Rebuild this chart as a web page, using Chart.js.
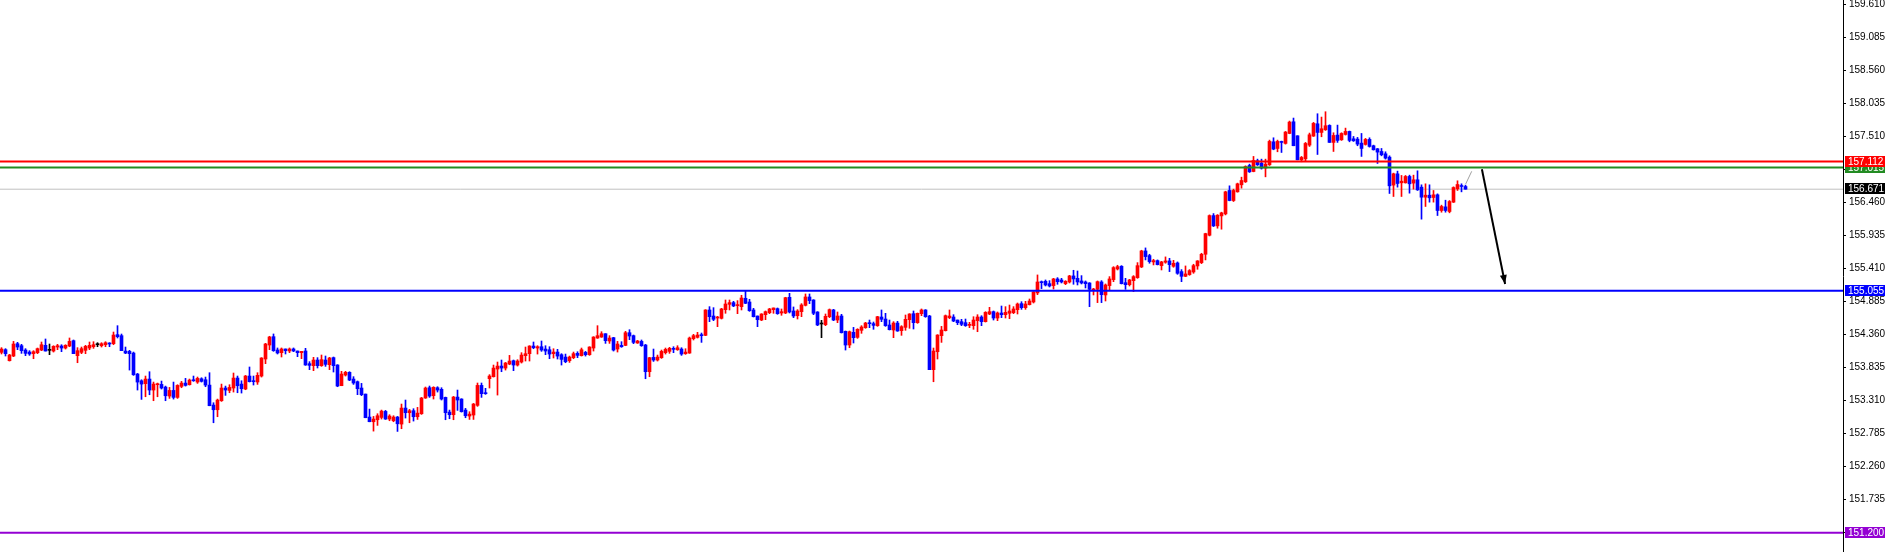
<!DOCTYPE html>
<html>
<head>
<meta charset="utf-8">
<script src="https://cdn.jsdelivr.net/npm/chart.js@4.4.1/dist/chart.umd.min.js"></script>
<style>
  html, body { margin: 0; padding: 0; background: #fff; }
  canvas { display: block; }
</style>
</head>
<body>
<canvas id="chart" width="1890" height="552"></canvas>
<script>
// candles, one per bar, oldest first
const opens = [
  154.073,154.116,153.940,154.015,154.211,154.179,154.110,154.078,154.052,154.068,
  154.110,154.185,154.105,154.094,154.158,154.174,154.142,154.174,154.259,154.020,
  154.073,154.105,154.142,154.163,154.195,154.179,154.195,154.217,154.211,154.355,
  154.339,154.094,154.089,154.062,153.728,153.621,153.574,153.648,153.473,153.558,
  153.563,153.520,153.377,153.467,153.356,153.531,153.584,153.558,153.637,153.600,
  153.653,153.637,153.552,153.234,153.159,153.303,153.505,153.467,153.505,153.664,
  153.568,153.489,153.696,153.622,153.601,153.696,153.967,154.190,154.323,154.111,
  154.068,154.127,154.095,154.127,154.095,154.068,154.095,153.893,153.861,153.951,
  153.861,153.951,153.877,153.989,153.872,153.542,153.712,153.755,153.648,153.606,
  153.505,153.409,153.043,152.968,153.000,153.037,153.133,153.011,152.984,153.043,
  152.931,153.186,153.112,153.144,153.048,153.096,153.346,153.510,153.383,153.510,
  153.484,153.356,153.122,153.080,153.361,153.330,153.154,153.059,153.075,153.229,
  153.547,153.431,153.654,153.685,153.807,153.855,153.823,153.887,153.940,153.871,
  153.919,154.020,154.052,154.174,154.142,154.163,154.126,154.115,154.052,154.078,
  154.036,153.998,153.940,153.988,154.057,154.020,154.073,154.036,154.142,154.301,
  154.317,154.370,154.254,154.307,154.126,154.184,154.184,154.386,154.339,154.222,
  154.248,154.190,153.765,153.993,153.951,153.988,154.068,154.089,154.137,154.115,
  154.126,154.052,154.062,154.291,154.312,154.349,154.344,154.748,154.652,154.620,
  154.615,154.753,154.838,154.865,154.817,154.801,154.934,154.875,154.748,154.652,
  154.588,154.673,154.705,154.753,154.769,154.700,154.700,154.950,154.732,154.657,
  154.721,154.822,154.955,154.907,154.716,154.525,154.514,154.641,154.748,154.588,
  154.652,154.408,154.190,154.392,154.312,154.424,154.466,154.540,154.530,154.498,
  154.636,154.604,154.509,154.429,154.540,154.418,154.471,154.594,154.689,154.546,
  154.689,154.748,154.652,153.797,154.083,154.339,154.418,154.626,154.636,154.588,
  154.562,154.546,154.503,154.498,154.578,154.636,154.562,154.684,154.721,154.620,
  154.700,154.673,154.695,154.705,154.753,154.849,154.785,154.833,154.875,155.019,
  155.199,155.205,155.167,155.136,155.242,155.226,155.167,155.194,155.290,155.252,
  155.210,155.194,155.178,155.066,155.077,155.194,154.987,155.136,155.231,155.401,
  155.444,155.183,155.151,155.215,155.263,155.433,155.688,155.614,155.513,155.534,
  155.454,155.508,155.529,155.444,155.497,155.359,155.284,155.311,155.353,155.449,
  155.502,155.635,155.938,156.251,156.087,156.246,156.278,156.651,156.491,156.629,
  156.741,156.789,157.049,156.953,157.124,157.086,157.007,157.060,157.426,157.320,
  157.426,157.400,157.559,157.745,157.522,157.139,157.155,157.373,157.517,157.713,
  157.575,157.618,157.687,157.416,157.533,157.458,157.543,157.591,157.474,157.469,
  157.405,157.384,157.464,157.363,157.315,157.272,157.235,157.182,156.736,156.916,
  156.773,156.773,156.874,156.768,156.821,156.704,156.544,156.576,156.539,156.582,
  156.332,156.390,156.316,156.465,156.677,156.730,156.714
];
const highs = [
  154.148,154.132,154.041,154.248,154.233,154.201,154.132,154.100,154.100,154.142,
  154.238,154.286,154.206,154.179,154.201,154.195,154.195,154.302,154.270,154.148,
  154.158,154.185,154.238,154.243,154.227,154.227,154.243,154.227,154.397,154.498,
  154.365,154.158,154.105,154.078,153.738,153.637,153.696,153.765,153.600,153.584,
  153.616,153.536,153.515,153.600,153.558,153.611,153.659,153.648,153.696,153.680,
  153.669,153.680,153.749,153.271,153.329,153.568,153.536,153.558,153.744,153.696,
  153.621,153.706,153.840,153.696,153.749,153.989,154.217,154.329,154.366,154.143,
  154.143,154.127,154.143,154.143,154.095,154.089,154.137,153.925,153.994,153.989,
  154.031,154.015,153.994,153.999,153.877,153.771,153.771,153.765,153.686,153.617,
  153.579,153.409,153.170,153.053,153.096,153.154,153.149,153.080,153.064,153.053,
  153.250,153.314,153.165,153.176,153.197,153.356,153.521,153.537,153.526,153.526,
  153.510,153.361,153.154,153.372,153.473,153.335,153.181,153.128,153.260,153.585,
  153.585,153.500,153.718,153.871,153.919,153.951,153.913,154.025,153.951,153.956,
  154.068,154.158,154.179,154.238,154.179,154.254,154.179,154.163,154.131,154.121,
  154.052,154.046,154.014,154.078,154.083,154.142,154.089,154.163,154.323,154.498,
  154.402,154.370,154.339,154.312,154.248,154.243,154.408,154.434,154.349,154.264,
  154.270,154.200,153.993,154.126,154.030,154.110,154.142,154.153,154.163,154.179,
  154.147,154.131,154.317,154.360,154.392,154.381,154.753,154.801,154.785,154.647,
  154.774,154.907,154.907,154.886,154.897,154.982,155.051,154.918,154.774,154.652,
  154.689,154.732,154.774,154.780,154.780,154.764,154.950,155.013,154.796,154.753,
  154.849,155.003,155.003,154.912,154.721,154.583,154.684,154.764,154.758,154.716,
  154.679,154.413,154.413,154.471,154.450,154.498,154.551,154.588,154.556,154.647,
  154.748,154.695,154.588,154.562,154.567,154.498,154.668,154.689,154.732,154.700,
  154.764,154.753,154.663,154.142,154.355,154.487,154.668,154.748,154.673,154.588,
  154.599,154.604,154.551,154.641,154.673,154.657,154.721,154.790,154.732,154.716,
  154.811,154.801,154.827,154.801,154.859,154.880,154.886,154.923,155.040,155.306,
  155.210,155.226,155.215,155.252,155.263,155.252,155.215,155.300,155.380,155.369,
  155.295,155.210,155.183,155.093,155.210,155.215,155.162,155.279,155.438,155.460,
  155.454,155.252,155.236,155.295,155.502,155.699,155.736,155.635,155.555,155.545,
  155.523,155.593,155.571,155.539,155.513,155.391,155.449,155.391,155.476,155.534,
  155.651,155.970,156.262,156.283,156.267,156.305,156.639,156.725,156.672,156.768,
  156.863,157.044,157.070,157.193,157.150,157.150,157.150,157.453,157.490,157.453,
  157.437,157.591,157.756,157.804,157.522,157.193,157.416,157.565,157.735,157.873,
  157.820,157.905,157.697,157.570,157.692,157.570,157.644,157.597,157.511,157.496,
  157.559,157.480,157.490,157.373,157.320,157.320,157.267,157.203,156.927,156.959,
  156.890,156.890,156.895,156.895,156.964,156.741,156.757,156.741,156.651,156.597,
  156.417,156.496,156.491,156.709,156.805,156.757,156.736
];
const lows = [
  154.047,154.015,153.935,154.004,154.116,154.057,154.020,154.025,153.972,154.052,
  154.100,154.094,154.036,154.078,154.116,154.084,154.126,154.163,154.052,153.908,
  154.052,154.052,154.116,154.137,154.163,154.158,154.163,154.163,154.195,154.302,
  154.100,154.052,153.791,153.706,153.473,153.324,153.366,153.398,153.303,153.366,
  153.489,153.303,153.340,153.329,153.340,153.510,153.536,153.552,153.611,153.579,
  153.600,153.526,153.223,152.952,153.048,153.292,153.388,153.430,153.441,153.430,
  153.425,153.478,153.601,153.553,153.563,153.680,153.893,154.116,154.089,154.047,
  153.999,154.047,154.068,154.084,154.004,153.973,153.866,153.797,153.781,153.824,
  153.850,153.850,153.797,153.760,153.526,153.542,153.696,153.622,153.563,153.399,
  153.383,153.032,152.968,152.819,152.910,153.011,153.005,152.984,152.968,152.814,
  152.857,153.027,152.952,152.979,153.005,153.085,153.340,153.356,153.330,153.441,
  153.314,153.000,153.016,153.000,153.149,153.122,153.032,153.005,153.005,153.213,
  153.356,153.404,153.505,153.680,153.393,153.765,153.791,153.876,153.781,153.855,
  153.903,153.935,153.935,154.131,154.046,154.089,154.036,153.972,153.983,153.967,
  153.871,153.908,153.913,153.972,153.988,154.014,154.014,154.025,154.094,154.296,
  154.312,154.216,154.216,154.094,154.078,154.153,154.179,154.275,154.211,154.216,
  154.169,153.653,153.685,153.929,153.935,153.977,154.046,154.057,154.068,154.105,
  154.025,154.041,154.057,154.270,154.301,154.232,154.339,154.562,154.578,154.482,
  154.604,154.695,154.748,154.801,154.689,154.748,154.849,154.726,154.636,154.482,
  154.578,154.594,154.689,154.695,154.679,154.663,154.689,154.700,154.626,154.604,
  154.641,154.812,154.849,154.673,154.498,154.307,154.498,154.626,154.578,154.546,
  154.381,154.110,154.147,154.222,154.296,154.376,154.456,154.466,154.440,154.487,
  154.562,154.487,154.429,154.307,154.408,154.344,154.424,154.456,154.445,154.535,
  154.657,154.631,153.797,153.605,153.967,154.232,154.413,154.610,154.562,154.514,
  154.498,154.487,154.466,154.440,154.402,154.498,154.556,154.673,154.588,154.578,
  154.626,154.620,154.609,154.689,154.684,154.758,154.758,154.827,154.859,154.992,
  155.088,155.130,155.114,155.082,155.157,155.178,155.151,155.178,155.157,155.146,
  155.162,155.098,154.801,154.987,154.865,154.865,154.891,155.066,155.199,155.385,
  155.162,155.077,155.130,155.040,155.252,155.423,155.545,155.492,155.465,155.465,
  155.385,155.492,155.359,155.428,155.316,155.199,155.279,155.300,155.332,155.396,
  155.486,155.545,155.927,156.076,156.050,156.034,156.262,156.486,156.475,156.624,
  156.688,156.778,156.938,156.948,157.049,156.991,156.868,157.049,157.299,157.267,
  157.256,157.389,157.554,157.363,157.139,157.108,157.113,157.352,157.511,157.224,
  157.506,157.607,157.416,157.272,157.416,157.448,157.533,157.426,157.432,157.363,
  157.193,157.373,157.341,157.294,157.081,157.203,157.150,156.603,156.555,156.704,
  156.555,156.768,156.608,156.672,156.651,156.194,156.396,156.465,156.465,156.252,
  156.305,156.305,156.295,156.459,156.651,156.629,156.671
];
const closes = [
  154.126,154.052,154.031,154.206,154.158,154.100,154.057,154.047,154.084,154.132,
  154.195,154.094,154.105,154.169,154.179,154.142,154.185,154.248,154.052,154.100,
  154.132,154.169,154.185,154.195,154.195,154.211,154.227,154.206,154.349,154.323,
  154.100,154.062,154.052,153.717,153.600,153.568,153.648,153.473,153.568,153.574,
  153.505,153.382,153.467,153.356,153.547,153.584,153.547,153.632,153.621,153.659,
  153.611,153.552,153.223,153.159,153.313,153.505,153.473,153.515,153.664,153.542,
  153.494,153.696,153.606,153.606,153.707,153.983,154.206,154.318,154.100,154.063,
  154.127,154.100,154.127,154.095,154.068,154.089,153.872,153.866,153.951,153.861,
  153.957,153.882,153.983,153.861,153.537,153.728,153.755,153.632,153.585,153.494,
  153.399,153.032,152.968,153.011,153.064,153.138,153.011,153.059,153.043,152.936,
  153.186,153.112,153.144,153.048,153.106,153.346,153.505,153.377,153.516,153.473,
  153.330,153.112,153.080,153.361,153.314,153.128,153.064,153.090,153.250,153.547,
  153.415,153.415,153.696,153.823,153.855,153.823,153.903,153.935,153.871,153.935,
  154.030,154.052,154.174,154.147,154.163,154.110,154.094,154.046,154.078,154.014,
  153.961,153.924,153.998,154.052,154.025,154.115,154.036,154.158,154.317,154.339,
  154.370,154.259,154.301,154.110,154.206,154.163,154.386,154.333,154.232,154.254,
  154.179,153.765,153.988,153.951,153.998,154.089,154.121,154.137,154.121,154.147,
  154.046,154.078,154.301,154.339,154.349,154.339,154.748,154.641,154.599,154.631,
  154.764,154.843,154.865,154.812,154.833,154.939,154.854,154.737,154.641,154.594,
  154.684,154.721,154.764,154.780,154.689,154.721,154.944,154.716,154.652,154.732,
  154.828,154.955,154.897,154.695,154.509,154.525,154.647,154.753,154.588,154.652,
  154.386,154.190,154.402,154.307,154.440,154.477,154.540,154.530,154.503,154.641,
  154.599,154.498,154.434,154.540,154.413,154.482,154.599,154.684,154.546,154.695,
  154.748,154.641,153.797,154.094,154.349,154.429,154.657,154.652,154.572,154.546,
  154.519,154.498,154.519,154.588,154.636,154.562,154.710,154.721,154.620,154.700,
  154.673,154.710,154.732,154.764,154.843,154.785,154.843,154.891,155.035,155.194,
  155.183,155.146,155.130,155.242,155.199,155.194,155.205,155.290,155.242,155.194,
  155.178,155.167,155.077,155.082,155.199,154.992,155.146,155.242,155.423,155.438,
  155.167,155.151,155.226,155.279,155.454,155.688,155.598,155.518,155.534,155.470,
  155.513,155.529,155.470,155.492,155.332,155.284,155.322,155.375,155.454,155.529,
  155.635,155.964,156.251,156.087,156.257,156.294,156.629,156.491,156.651,156.757,
  156.810,157.033,156.948,157.129,157.060,157.007,157.070,157.432,157.310,157.432,
  157.416,157.581,157.740,157.363,157.139,157.177,157.400,157.538,157.719,157.575,
  157.634,157.682,157.416,157.527,157.448,157.559,157.591,157.448,157.442,157.389,
  157.320,157.464,157.352,157.299,157.262,157.219,157.166,156.725,156.916,156.762,
  156.799,156.874,156.757,156.821,156.661,156.544,156.576,156.534,156.582,156.332,
  156.396,156.332,156.475,156.698,156.746,156.714,156.671
];

// price axis labels
const tickValues = [159.610, 159.085, 158.560, 158.035, 157.510, 156.985, 156.460, 155.935,
  155.410, 154.885, 154.360, 153.835, 153.310, 152.785, 152.260, 151.735, 151.210];

// horizontal levels: resistance, support, bid, target, lower target
const levelValues = [157.112, 157.015, 156.671, 155.055, 151.200];
const levelLineColors = ['#ff0000', '#228b22', '#c0c0c0', '#0000ff', '#9400d3'];
const levelBoxColors = ['#ff0000', '#228b22', '#000000', '#0000ff', '#9400d3'];
const levelWidths = [2, 2, 1, 2, 2];

// small drawn objects (bar index, price)
const trendX = [366.05, 367.55];
const trendY = [156.754, 156.956];
const arrowX = [370.1, 375.9];
const arrowY = [156.988, 155.162];

const xMin = -0.375, xMax = 460.375;
const yMin = 150.894, yMax = 159.684;

const UP = '#ff0000', DOWN = '#0000ff', FLAT = '#000000';
const LABEL_FONT = '"Liberation Sans", Arial, sans-serif';

function candleColor(i) {
  if (closes[i] > opens[i]) return UP;
  if (closes[i] < opens[i]) return DOWN;
  return FLAT;
}

const wicks = highs.map((h, i) => ({ x: i, y: [lows[i], h] }));
const bodies = opens.map((o, i) => ({ x: i, y: [o, closes[i]] }));

const levelSets = levelValues.map((v, i) => ({
  type: 'line',
  data: [{ x: xMin, y: v }, { x: xMax, y: v }],
  borderColor: levelLineColors[i],
  borderWidth: levelWidths[i],
  pointRadius: 0,
  fill: false,
  order: i === 2 ? 10 : 2
}));

const arrowHead = {
  id: 'arrowHead',
  afterDatasetsDraw(chart) {
    const idx = chart.data.datasets.findIndex(d => d.label === 'arrow');
    const pts = chart.getDatasetMeta(idx).data;
    if (pts.length < 2) return;
    const a = pts[0], b = pts[1];
    const ang = Math.atan2(b.y - a.y, b.x - a.x);
    const len = 9, half = 3.5;
    const ctx = chart.ctx;
    ctx.save();
    ctx.fillStyle = '#000';
    ctx.beginPath();
    ctx.moveTo(b.x, b.y);
    ctx.lineTo(b.x - len * Math.cos(ang) + half * Math.sin(ang), b.y - len * Math.sin(ang) - half * Math.cos(ang));
    ctx.lineTo(b.x - len * Math.cos(ang) - half * Math.sin(ang), b.y - len * Math.sin(ang) + half * Math.cos(ang));
    ctx.closePath();
    ctx.fill();
    ctx.restore();
  }
};

// coloured price tags on the axis, drawn green before red so red sits on top
const levelTags = {
  id: 'levelTags',
  afterDraw(chart) {
    const ctx = chart.ctx;
    const ys = chart.scales.y;
    const x0 = chart.chartArea.right + 2;
    ctx.save();
    ctx.font = '10px ' + LABEL_FONT;
    ctx.textBaseline = 'middle';
    ctx.textAlign = 'left';
    [1, 0, 2, 3, 4].forEach(i => {
      const py = Math.round(ys.getPixelForValue(levelValues[i]));
      ctx.fillStyle = levelBoxColors[i];
      ctx.fillRect(x0, py - 6, 40, 11);
      ctx.fillStyle = '#ffffff';
      ctx.fillText(levelValues[i].toFixed(3), x0 + 3, py);
    });
    ctx.restore();
  }
};

new Chart(document.getElementById('chart'), {
  type: 'bar',
  data: {
    datasets: [
      {
        label: 'wick',
        data: wicks,
        backgroundColor: c => candleColor(c.dataIndex),
        barThickness: 1,
        grouped: false,
        borderWidth: 0,
        order: 6
      },
      {
        label: 'body',
        data: bodies,
        backgroundColor: c => candleColor(c.dataIndex),
        barThickness: 3,
        minBarLength: 1,
        grouped: false,
        borderWidth: 0,
        order: 5
      },
      ...levelSets,
      {
        label: 'trend',
        type: 'line',
        data: trendX.map((x, i) => ({ x: x, y: trendY[i] })),
        borderColor: '#a0a0a0',
        borderWidth: 1,
        pointRadius: 0,
        order: 1
      },
      {
        label: 'arrow',
        type: 'line',
        data: arrowX.map((x, i) => ({ x: x, y: arrowY[i] })),
        borderColor: '#000000',
        borderWidth: 2,
        pointRadius: 0,
        order: 1
      }
    ]
  },
  options: {
    responsive: false,
    devicePixelRatio: 1,
    animation: false,
    layout: { padding: 0 },
    plugins: { legend: { display: false }, tooltip: { enabled: false } },
    scales: {
      x: {
        type: 'linear',
        min: xMin,
        max: xMax,
        offset: false,
        display: false
      },
      y: {
        position: 'right',
        min: yMin,
        max: yMax,
        bounds: 'data',
        afterBuildTicks: s => { s.ticks = tickValues.map(v => ({ value: v })); },
        afterFit: s => { s.width = 47; s.paddingTop = 0; s.paddingBottom = 0; },
        border: { display: true, color: '#000000', width: 1 },
        grid: { drawOnChartArea: false, drawTicks: true, tickLength: 3, color: '#000000' },
        ticks: {
          autoSkip: false,
          padding: 3,
          color: '#000000',
          font: { family: LABEL_FONT, size: 10 },
          callback: v => Number(v).toFixed(3)
        }
      }
    }
  },
  plugins: [arrowHead, levelTags]
});
</script>
</body>
</html>
